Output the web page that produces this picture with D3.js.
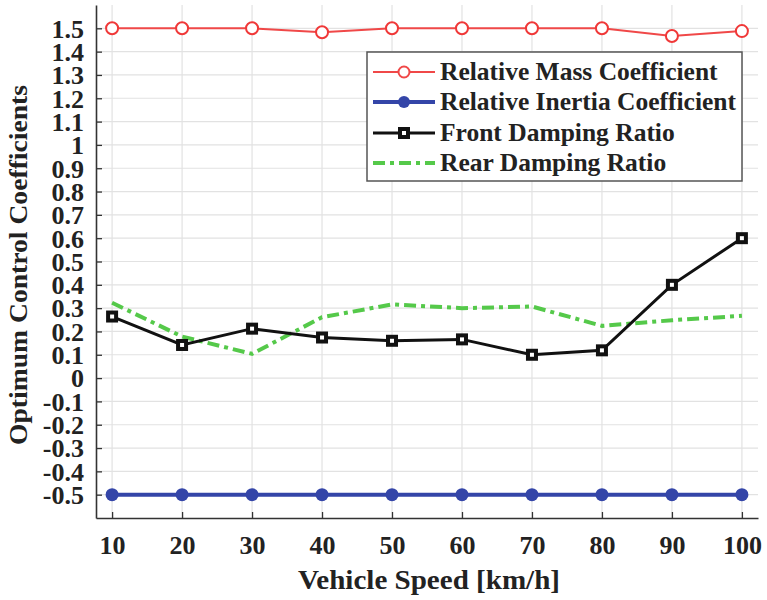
<!DOCTYPE html>
<html>
<head>
<meta charset="utf-8">
<script src="https://cdn.jsdelivr.net/npm/d3@7"></script>
<style>
  body { margin: 0; background: #fff; }
  .chart text { font-family: "Liberation Serif", Tinos, "Times New Roman", serif; font-weight: bold; fill: #222; }
</style>
</head>
<body>
<div class="chart"></div>
<script>
var svgWidth = 767;
var svgHeight = 600;
var serifFont = '"Liberation Serif", Tinos, "Times New Roman", serif';

// data
var speeds = [10, 20, 30, 40, 50, 60, 70, 80, 90, 100];
var massCoef = [1.5, 1.5, 1.5, 1.483, 1.5, 1.5, 1.5, 1.5, 1.467, 1.488];
var inertiaCoef = [-0.5, -0.5, -0.5, -0.5, -0.5, -0.5, -0.5, -0.5, -0.5, -0.5];
var frontDamping = [0.264, 0.142, 0.212, 0.174, 0.160, 0.166, 0.100, 0.119, 0.400, 0.600];
var rearDamping = [0.323, 0.178, 0.104, 0.261, 0.316, 0.300, 0.307, 0.224, 0.248, 0.267];
var xTicks = [10, 20, 30, 40, 50, 60, 70, 80, 90, 100];
var yTicks = [-0.5, -0.4, -0.3, -0.2, -0.1, 0, 0.1, 0.2, 0.3, 0.4, 0.5, 0.6, 0.7, 0.8, 0.9, 1, 1.1, 1.2, 1.3, 1.4, 1.5];
var seriesNames = ["Relative Mass Coefficient", "Relative Inertia Coefficient", "Front Damping Ratio", "Rear Damping Ratio"];

var plot = { left: 96, right: 758, top: 5, bottom: 518 };

var svg = d3.select(".chart")
  .append("svg")
  .attr("width", svgWidth)
  .attr("height", svgHeight);

var x = d3.scaleLinear()
  .domain([7.7, 102.3])
  .range([plot.left, plot.right]);

var y = d3.scaleLinear()
  .domain([-0.6, 1.6])
  .range([plot.bottom, plot.top]);

// grid
svg.append("g").selectAll("line")
  .data(xTicks)
  .enter().append("line")
  .attr("x1", d => x(d)).attr("x2", d => x(d))
  .attr("y1", plot.top).attr("y2", plot.bottom)
  .attr("stroke", "#e2e2e2").attr("stroke-width", 1.2);

svg.append("g").selectAll("line")
  .data(yTicks)
  .enter().append("line")
  .attr("x1", plot.left).attr("x2", plot.right)
  .attr("y1", d => y(d)).attr("y2", d => y(d))
  .attr("stroke", "#e2e2e2").attr("stroke-width", 1.2);

// axes (ticks pointing inward)
var bottomAxis = d3.axisBottom(x).tickValues(xTicks).tickSize(-6).tickPadding(18).tickSizeOuter(0);
var leftAxis = d3.axisLeft(y).tickValues(yTicks).tickSize(-6).tickPadding(12).tickSizeOuter(0)
  .tickFormat(d => String(+d.toFixed(1)));

var gx = svg.append("g")
  .attr("transform", `translate(0, ${plot.bottom})`)
  .call(bottomAxis);
var gy = svg.append("g")
  .attr("transform", `translate(${plot.left}, 0)`)
  .call(leftAxis);

[gx, gy].forEach(function(g) {
  g.attr("font-family", null);
  g.select(".domain").attr("stroke", "#333").attr("stroke-width", 1.6);
  g.selectAll(".tick line").attr("stroke", "#333").attr("stroke-width", 1.3);
  g.selectAll(".tick text")
    .attr("fill", "#222")
    .style("font-family", serifFont)
    .style("font-weight", "bold")
    .style("font-size", "26px");
});
gy.selectAll(".tick text").attr("dy", "0.34em");

// series
var line = d3.line().x((d, i) => x(speeds[i])).y(d => y(d));

svg.append("path").datum(rearDamping)
  .attr("d", line).attr("fill", "none")
  .attr("stroke", "#55c94a").attr("stroke-width", 4)
  .attr("stroke-dasharray", "12,5,4,5");

svg.append("path").datum(frontDamping)
  .attr("d", line).attr("fill", "none")
  .attr("stroke", "#111").attr("stroke-width", 3);

svg.append("g").selectAll("rect")
  .data(frontDamping)
  .enter().append("rect")
  .attr("x", (d, i) => x(speeds[i]) - 4)
  .attr("y", d => y(d) - 4)
  .attr("width", 8).attr("height", 8)
  .attr("fill", "#fff").attr("stroke", "#111").attr("stroke-width", 4);

svg.append("path").datum(inertiaCoef)
  .attr("d", line).attr("fill", "none")
  .attr("stroke", "#3445a8").attr("stroke-width", 4);

svg.append("g").selectAll("circle")
  .data(inertiaCoef)
  .enter().append("circle")
  .attr("cx", (d, i) => x(speeds[i]))
  .attr("cy", d => y(d))
  .attr("r", 6.5)
  .attr("fill", "#3445a8");

svg.append("path").datum(massCoef)
  .attr("d", line).attr("fill", "none")
  .attr("stroke", "#f04848").attr("stroke-width", 2);

svg.append("g").selectAll("circle")
  .data(massCoef)
  .enter().append("circle")
  .attr("cx", (d, i) => x(speeds[i]))
  .attr("cy", d => y(d))
  .attr("r", 6)
  .attr("fill", "#fff")
  .attr("stroke", "#f03838").attr("stroke-width", 2);

// axis titles
svg.append("text")
  .attr("x", 429)
  .attr("y", 589)
  .attr("text-anchor", "middle")
  .attr("textLength", 262)
  .attr("lengthAdjust", "spacingAndGlyphs")
  .style("font-size", "27px")
  .text("Vehicle Speed [km/h]");

svg.append("text")
  .attr("transform", "translate(27, 265) rotate(-90)")
  .attr("text-anchor", "middle")
  .attr("textLength", 360)
  .attr("lengthAdjust", "spacingAndGlyphs")
  .style("font-size", "25px")
  .text("Optimum Control Coefficients");

// legend
var legend = svg.append("g");
legend.append("rect")
  .attr("x", 367).attr("y", 52)
  .attr("width", 375).attr("height", 129)
  .attr("fill", "#fff").attr("stroke", "#555").attr("stroke-width", 1.5);

var rowY = [72, 102, 133, 163];
var styles = [
  { color: "#f04848", width: 2, dash: null, marker: "open" },
  { color: "#3445a8", width: 4, dash: null, marker: "dot" },
  { color: "#111", width: 3, dash: null, marker: "square" },
  { color: "#55c94a", width: 4, dash: "12,5,4,5", marker: null }
];

seriesNames.forEach(function(name, i) {
  var s = styles[i];
  var row = legend.append("g").attr("transform", `translate(0, ${rowY[i]})`);
  row.append("line")
    .attr("x1", 373).attr("x2", 435)
    .attr("stroke", s.color).attr("stroke-width", s.width)
    .attr("stroke-dasharray", s.dash);
  if (s.marker === "open") {
    row.append("circle").attr("cx", 404).attr("r", 5.5)
      .attr("fill", "#fff").attr("stroke", s.color).attr("stroke-width", 2);
  } else if (s.marker === "dot") {
    row.append("circle").attr("cx", 404).attr("r", 6).attr("fill", s.color);
  } else if (s.marker === "square") {
    row.append("rect").attr("x", 400).attr("y", -4).attr("width", 8).attr("height", 8)
      .attr("fill", "#fff").attr("stroke", s.color).attr("stroke-width", 4);
  }
  row.append("text")
    .attr("x", 440).attr("dy", "0.33em")
    .style("font-size", "25.5px")
    .text(name);
});
</script>
</body>
</html>
